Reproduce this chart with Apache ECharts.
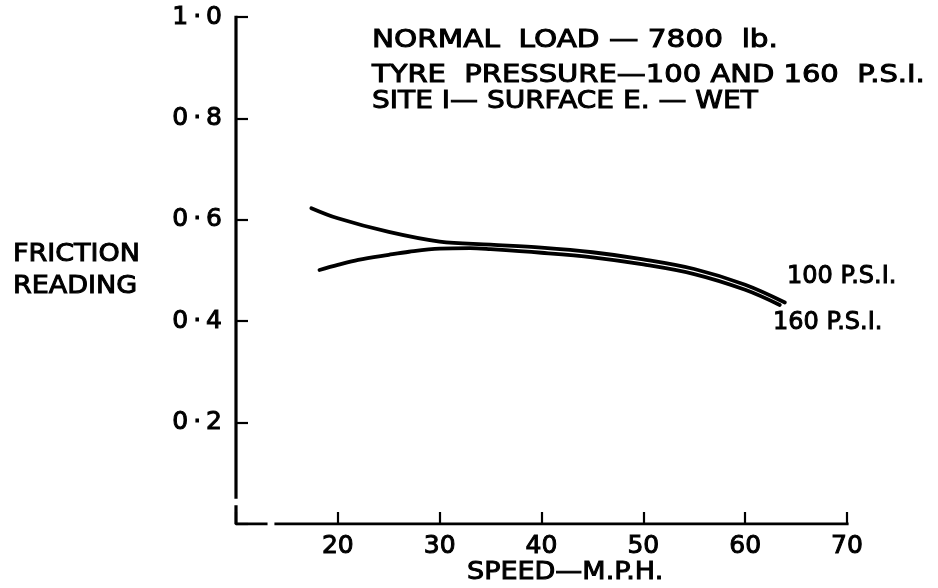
<!DOCTYPE html>
<html>
<head>
<meta charset="utf-8">
<title>Friction reading vs speed</title>
<script src="https://cdn.jsdelivr.net/npm/echarts@6/dist/echarts.min.js"></script>
<style>
  html, body { margin: 0; padding: 0; background: #ffffff; }
  #chart { width: 938px; height: 588px; }
</style>
</head>
<body>
<div id="chart"></div>
<script>
// Friction reading against speed, two tyre pressures (site I, surface E, wet)
const speed100 = [17.4, 20, 25, 30, 35, 40, 45, 50, 55, 60, 63.9];
const friction100 = [0.623, 0.603, 0.576, 0.557, 0.551, 0.545, 0.536, 0.522, 0.503, 0.472, 0.437];

const speed160 = [18.2, 20, 22, 25, 27, 30, 33, 35, 40, 45, 50, 55, 60, 63.4];
const friction160 = [0.501, 0.511, 0.521, 0.531, 0.537, 0.543, 0.544, 0.542, 0.535, 0.526, 0.512, 0.493, 0.462, 0.432];

const xTickLabels = { 20: '20', 30: '30', 40: '40', 50: '50', 60: '60', 70: '70' };
const yTickLabels = {
  0.2: '0\u2009·\u20092',
  0.4: '0\u2009·\u20094',
  0.6: '0\u2009·\u20096',
  0.8: '0\u2009·\u20098',
  1: '1\u2009·\u20090'
};

const seriesNames = ['100 P.S.I.', '160 P.S.I.'];
const noteLines = [
  'NORMAL  LOAD — 7800  lb.',
  'TYRE  PRESSURE—100 AND 160  P.S.I.',
  'SITE I— SURFACE E. — WET'
];

// axis ranges and the small breaks drawn near the origin
const xMin = 10, xMax = 70;
const yMin = 0, yMax = 1.0;
const xBreak = [12.94, 13.93];
const yBreak = [0.034, 0.053];

const FONT = '"DejaVu Sans", sans-serif';
const INK = '#000000';

function pairs(xs, ys) { return xs.map((x, i) => [x, ys[i]]); }

function axisSegment(points) {
  return {
    type: 'line',
    data: points,
    silent: true,
    showSymbol: false,
    symbol: 'none',
    lineStyle: { color: INK, width: 3.2, cap: 'square' },
    z: 3
  };
}

function curve(name, xs, ys) {
  return {
    name: name,
    type: 'line',
    data: pairs(xs, ys),
    smooth: 0.35,
    showSymbol: false,
    symbol: 'none',
    lineStyle: { color: INK, width: 3.8, cap: 'round', join: 'round' },
    z: 4
  };
}

function textEl(text, x, y, sx) {
  return {
    type: 'text',
    x: x,
    y: y,
    scaleX: sx || 1,
    style: {
      text: text,
      font: '25px ' + FONT,
      fill: INK,
      stroke: INK,
      lineWidth: 1.0,
      textAlign: 'left',
      textVerticalAlign: 'middle'
    }
  };
}

const chart = echarts.init(document.getElementById('chart'), null, { renderer: 'canvas' });

const labelStyle = {
  color: INK,
  fontFamily: FONT,
  fontSize: 25,
  textBorderColor: INK,
  textBorderWidth: 1.0
};

const option = {
  animation: false,
  backgroundColor: '#ffffff',
  grid: { left: 236, right: 91, top: 17, bottom: 64, containLabel: false },
  xAxis: {
    type: 'value',
    min: xMin,
    max: xMax,
    interval: 10,
    axisLine: { show: false },
    splitLine: { show: false },
    axisTick: { show: true, inside: true, length: 12, lineStyle: { color: INK, width: 2.2 } },
    axisLabel: Object.assign({ margin: 10, formatter: v => xTickLabels[v] || '' }, labelStyle)
  },
  yAxis: {
    type: 'value',
    min: yMin,
    max: yMax,
    interval: 0.2,
    axisLine: { show: false },
    splitLine: { show: false },
    axisTick: { show: true, inside: true, length: 12, lineStyle: { color: INK, width: 2.2 } },
    axisLabel: Object.assign({
      margin: 14,
      formatter: v => yTickLabels[Math.round(v * 10) / 10] || ''
    }, labelStyle)
  },
  series: [
    axisSegment([[xMin, yMax], [xMin, yBreak[1]]]),
    axisSegment([[xMin, yBreak[0]], [xMin, yMin], [xBreak[0], yMin]]),
    axisSegment([[xBreak[1], yMin], [xMax, yMin]]),
    curve(seriesNames[0], speed100, friction100),
    curve(seriesNames[1], speed160, friction160)
  ],
  graphic: [
    textEl(noteLines[0], 372, 40, 1.18),
    textEl(noteLines[1], 372, 75, 1.16),
    textEl(noteLines[2], 372, 101, 1.12),
    textEl('FRICTION', 13, 254, 1.08),
    textEl('READING', 13, 286, 1.08),
    textEl('SPEED—M.P.H.', 467, 572, 1.08),
    textEl(seriesNames[0], 787, 276, 0.96),
    textEl(seriesNames[1], 773, 322, 0.96)
  ]
};

chart.setOption(option);
</script>
</body>
</html>
